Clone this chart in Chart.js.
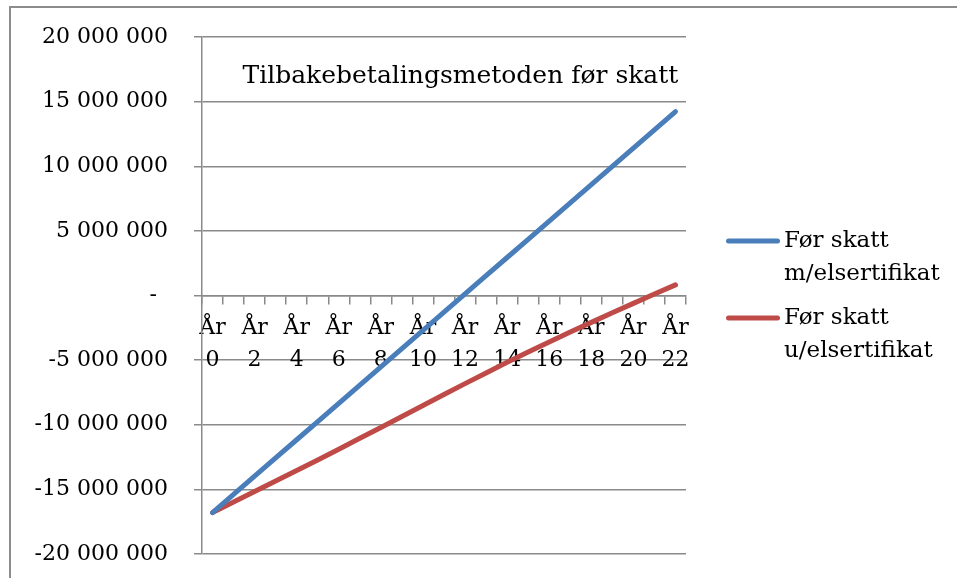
<!DOCTYPE html>
<html>
<head>
<meta charset="utf-8">
<title>Tilbakebetalingsmetoden før skatt</title>
<script src="https://cdn.jsdelivr.net/npm/chart.js@4/dist/chart.umd.min.js"></script>
<style>
  html, body { margin: 0; padding: 0; background: #ffffff; }
  #wrap { position: relative; width: 957px; height: 578px; overflow: hidden; }
  #frame { position: absolute; left: 9px; top: 6px; width: 1200px; height: 1200px;
           border-left: 2px solid #8c8c8c; border-top: 2px solid #8c8c8c; }
  #c { position: absolute; left: 0; top: 0; }
</style>
</head>
<body>
<div id="wrap">
  <div id="frame"></div>
  <canvas id="c" width="957" height="578"></canvas>
</div>
<script>
// Years of the payback period
const years = ['År 0', 'År 1', 'År 2', 'År 3', 'År 4', 'År 5', 'År 6', 'År 7', 'År 8', 'År 9',
  'År 10', 'År 11', 'År 12', 'År 13', 'År 14', 'År 15', 'År 16', 'År 17', 'År 18', 'År 19',
  'År 20', 'År 21', 'År 22'];

// Accumulated cash flow before tax, with green certificates (NOK)
const medElsertifikat = [-16800000, -15390000, -13980000, -12570000, -11160000, -9750000,
  -8340000, -6930000, -5520000, -4110000, -2700000, -1290000, 120000, 1530000, 2940000,
  4350000, 5760000, 7170000, 8580000, 9990000, 11400000, 12810000, 14220000];

// Accumulated cash flow before tax, without green certificates (NOK)
const utenElsertifikat = [-16800000, -15980000, -15160000, -14350000, -13540000, -12720000,
  -11890000, -11050000, -10210000, -9360000, -8510000, -7660000, -6820000, -5990000,
  -5170000, -4370000, -3590000, -2830000, -2080000, -1340000, -610000, 110000, 820000];

const seriesNames = [['Før skatt', 'm/elsertifikat'], ['Før skatt', 'u/elsertifikat']];
const chartTitle = 'Tilbakebetalingsmetoden før skatt';

// Value axis range
const yMin = -20000000;
const yMax = 20000000;
const yStep = 5000000;

const FONT = '"DejaVu Serif", "Liberation Serif", serif';
const FONT_SIZE = 22;
const GRID = '#8a8a8a';
const BLUE = '#4a7ebb';
const RED = '#be4b48';

// Thousands separated by spaces, zero shown as a dash
function formatNok(v) {
  if (v === 0) return '-\u2002';
  const s = Math.abs(v).toString().replace(/\B(?=(\d{3})+(?!\d))/g, ' ');
  return (v < 0 ? '-' : '') + s;
}

// Title sits inside the plot area, near the top
const overlayTitle = {
  id: 'overlayTitle',
  afterDatasetsDraw(chart) {
    const { ctx, chartArea } = chart;
    ctx.save();
    ctx.font = '25px ' + FONT;
    ctx.fillStyle = '#000';
    ctx.textAlign = 'center';
    ctx.textBaseline = 'middle';
    ctx.fillText(chartTitle, chartArea.left + chartArea.width * 0.534, chartArea.top + 39);
    ctx.restore();
  }
};

// Legend in the right margin: a line sample followed by a two-line label
const sideLegend = {
  id: 'sideLegend',
  afterDraw(chart) {
    const { ctx, chartArea } = chart;
    const midY = (chartArea.top + chartArea.bottom) / 2;
    const lineX = chartArea.right + 42.5;
    const lineLen = 49;
    const textX = chartArea.right + 98;
    const lineGap = 33;
    const itemStep = 77;
    const firstY = midY - 54.5;
    ctx.save();
    ctx.font = '23px ' + FONT;
    ctx.fillStyle = '#000';
    ctx.textAlign = 'left';
    ctx.textBaseline = 'middle';
    chart.data.datasets.forEach((ds, i) => {
      const y = firstY + i * itemStep;
      ctx.strokeStyle = ds.borderColor;
      ctx.lineWidth = ds.borderWidth;
      ctx.lineCap = 'round';
      ctx.beginPath();
      ctx.moveTo(lineX, y);
      ctx.lineTo(lineX + lineLen, y);
      ctx.stroke();
      seriesNames[i].forEach((t, j) => ctx.fillText(t, textX, y + j * lineGap));
    });
    ctx.restore();
  }
};

Chart.defaults.font.family = FONT;
Chart.defaults.font.size = FONT_SIZE;
Chart.defaults.color = '#000';

new Chart(document.getElementById('c'), {
  type: 'line',
  data: {
    labels: years,
    datasets: [
      {
        label: seriesNames[0].join(' '),
        data: medElsertifikat,
        borderColor: BLUE,
        backgroundColor: BLUE,
        borderWidth: 5,
        borderCapStyle: 'round',
        borderJoinStyle: 'round',
        pointRadius: 0,
        tension: 0
      },
      {
        label: seriesNames[1].join(' '),
        data: utenElsertifikat,
        borderColor: RED,
        backgroundColor: RED,
        borderWidth: 5,
        borderCapStyle: 'round',
        borderJoinStyle: 'round',
        pointRadius: 0,
        tension: 0
      }
    ]
  },
  options: {
    responsive: false,
    animation: false,
    events: [],
    layout: { padding: { top: 37, bottom: 24, left: 0, right: 271 } },
    scales: {
      x: {
        type: 'category',
        offset: true,
        position: { y: 0 },
        grid: { offset: true, drawOnChartArea: false, drawTicks: true, tickLength: 8, color: GRID, lineWidth: 1.5 },
        border: { display: true, color: GRID, width: 1.5 },
        ticks: {
          autoSkip: false,
          maxRotation: 0,
          minRotation: 0,
          padding: 9,
          font: { size: FONT_SIZE, lineHeight: 1.45 },
          color: '#000',
          callback(value, index) {
            return index % 2 === 0 ? years[index].split(' ') : '';
          }
        }
      },
      y: {
        type: 'linear',
        position: 'left',
        min: yMin,
        max: yMax,
        grid: { drawTicks: true, tickLength: 8, color: GRID, lineWidth: 1.5 },
        border: { display: true, color: GRID, width: 1.5 },
        ticks: {
          stepSize: yStep,
          padding: 26,
          color: '#000',
          font: { size: FONT_SIZE },
          callback: (v) => formatNok(v)
        },
        afterFit(scale) {
          scale.width = 202;
          scale.paddingTop = 0;
          scale.paddingBottom = 0;
        }
      }
    },
    plugins: {
      title: { display: false },
      tooltip: { enabled: false },
      legend: { display: false }
    }
  },
  plugins: [overlayTitle, sideLegend]
});
</script>
</body>
</html>
